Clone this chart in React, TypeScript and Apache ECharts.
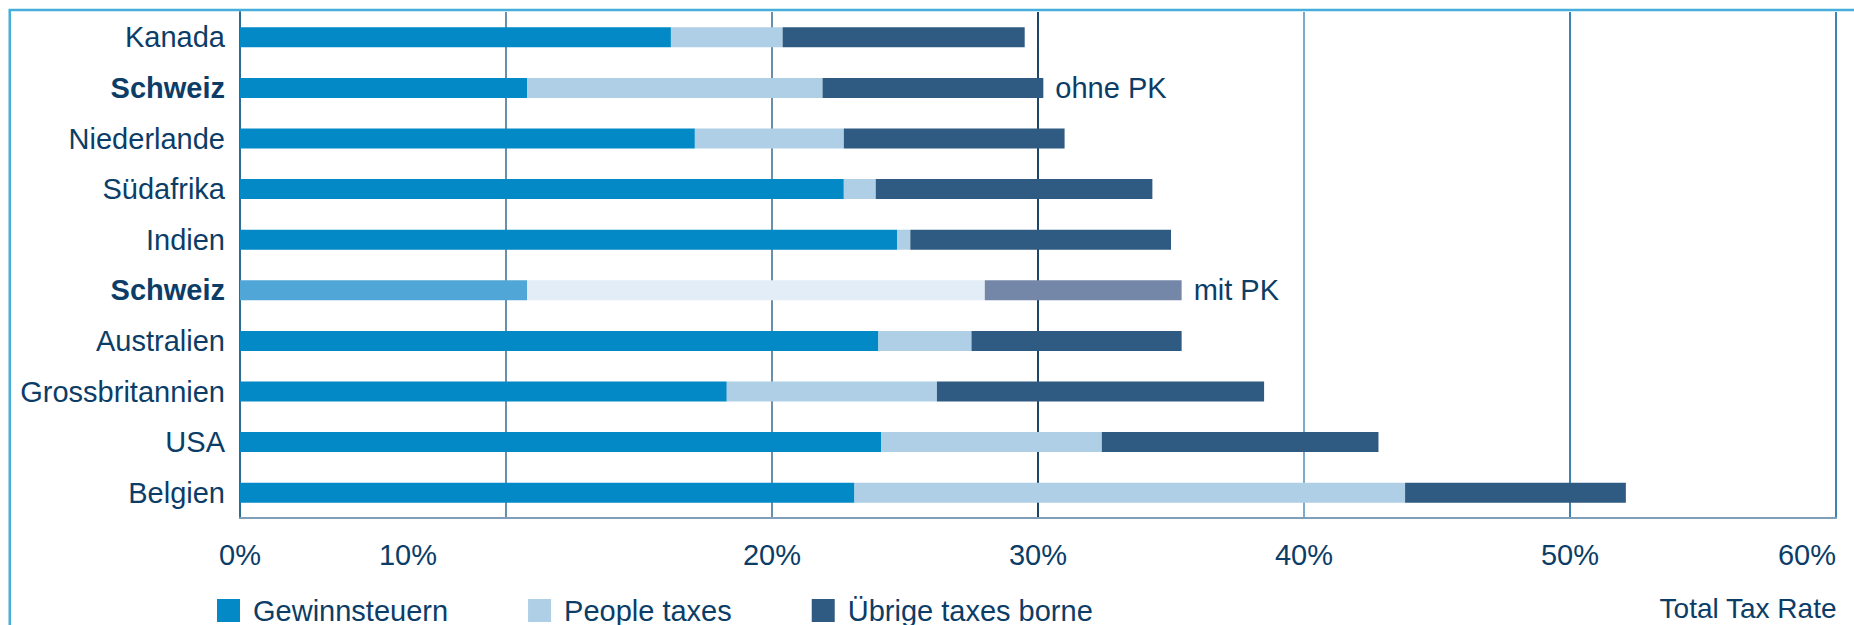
import React, { useEffect, useRef } from "react";
import * as echarts from "echarts";

const categories = [
  "Kanada",
  "Schweiz",
  "Niederlande",
  "Südafrika",
  "Indien",
  "Schweiz",
  "Australien",
  "Grossbritannien",
  "USA",
  "Belgien",
];
const gewinnsteuern = [16.2, 10.8, 17.1, 22.7, 24.7, 10.8, 24.0, 18.3, 24.1, 23.1];
const peopleTaxes = [4.2, 11.1, 5.6, 1.2, 0.5, 17.2, 3.5, 7.9, 8.3, 20.7];
const uebrigeTaxes = [9.1, 8.3, 8.3, 10.4, 9.8, 7.4, 7.9, 12.3, 10.4, 8.3];
const barNotes = ["", "ohne PK", "", "", "", "mit PK", "", "", "", ""];
const boldRows = [1, 5];
const lightRow = 5;
const seriesNames = ["Gewinnsteuern", "People taxes", "Übrige taxes borne"];
const xTicks = [0, 10, 20, 30, 40, 50, 60];
const xAxisTitle = "Total Tax Rate";

const FONT = "'Liberation Sans', Arial, Helvetica, sans-serif";
const FS = 29;
const TEXT = "#0B3D67";
const colors = ["#0289C6", "#AECFE6", "#2F5B82"];
const lightColors = ["#50A6D6", "#E3EDF7", "#7587A8"];

export default function App() {
  const ref = useRef<HTMLDivElement>(null);

  useEffect(() => {
    if (!ref.current) return;
    const chart = echarts.init(ref.current, null, { renderer: "svg" });
    const seriesData = [gewinnsteuern, peopleTaxes, uebrigeTaxes];

    const series = seriesData.map((vals, si) => ({
      name: seriesNames[si],
      type: "bar",
      stack: "total",
      barWidth: 20,
      itemStyle: { color: colors[si] },
      data: vals.map((v, i) => {
        const item: any = { value: v };
        if (i === lightRow) item.itemStyle = { color: lightColors[si] };
        if (si === 2 && barNotes[i]) {
          item.label = {
            show: true,
            position: "right",
            distance: 12,
            formatter: barNotes[i],
            color: TEXT,
            fontSize: FS,
            fontFamily: FONT,
          };
        }
        return item;
      }),
    }));

    chart.setOption({
      animation: false,
      backgroundColor: "#ffffff",
      title: {
        text: xAxisTitle,
        right: 17,
        top: 594,
        padding: 0,
        textStyle: {
          color: TEXT,
          fontSize: 28,
          fontWeight: "normal",
          fontFamily: FONT,
        },
      },
      grid: {
        left: 240,
        right: 18,
        top: 12,
        bottom: 107,
        containLabel: false,
        outerBoundsMode: "none",
      },
      legend: {
        left: 217,
        top: 596,
        padding: 0,
        itemWidth: 23,
        itemHeight: 23,
        itemGap: 80,
        icon: "rect",
        data: seriesNames,
        textStyle: { color: TEXT, fontSize: FS, fontFamily: FONT, padding: [0, 0, 0, 8] },
      },
      xAxis: {
        type: "value",
        min: xTicks[0],
        max: xTicks[xTicks.length - 1],
        interval: 10,
        axisLine: { show: true, lineStyle: { color: "#7F9FB8", width: 2 } },
        axisTick: { show: false },
        splitLine: {
          show: true,
          lineStyle: {
            color: ["#2E6E96", "#6A8FA8", "#6A8FA8", "#1E4466", "#7AAACD", "#3E83B3", "#3E83B3"],
            width: 2,
          },
        },
        axisLabel: {
          margin: 22,
          color: TEXT,
          fontSize: FS,
          fontFamily: FONT,
          alignMaxLabel: "right",
          formatter: (v: number) => (v === 10 ? `{s|${v}%}` : `${v}%`),
          rich: {
            s: { padding: [0, 196, 0, 0], color: TEXT, fontSize: FS, fontFamily: FONT },
          },
        },
      },
      yAxis: {
        type: "category",
        inverse: true,
        data: categories,
        axisLine: { show: true, lineStyle: { color: "#2E6E96", width: 2 } },
        axisTick: { show: false },
        axisLabel: {
          margin: 15,
          color: TEXT,
          fontSize: FS,
          fontFamily: FONT,
          formatter: (v: string, i: number) => (boldRows.includes(i) ? `{b|${v}}` : v),
          rich: {
            b: { fontWeight: "bold", color: TEXT, fontSize: FS, fontFamily: FONT },
          },
        },
      },
      graphic: [
        {
          type: "polyline",
          shape: { points: [[9.75, 700], [9.75, 10], [1900, 10]] },
          style: { stroke: "#45AEDB", lineWidth: 2.5, fill: "none" },
          silent: true,
        },
      ],
      series,
    });

    return () => chart.dispose();
  }, []);

  return (
    <div
      ref={ref}
      style={{ position: "fixed", left: 0, top: 0, width: 1854, height: 625 }}
    />
  );
}
